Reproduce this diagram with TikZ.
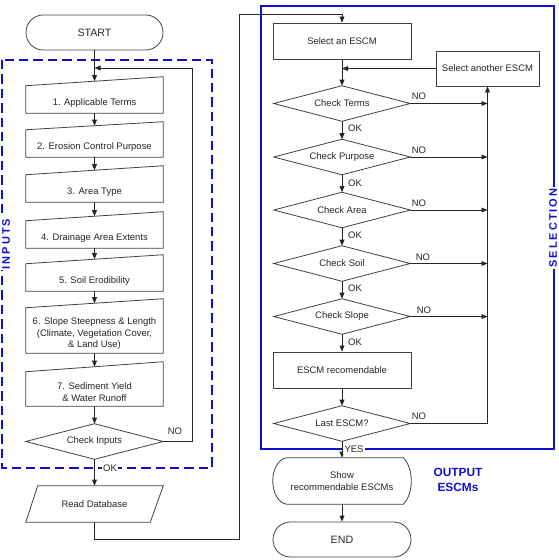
\documentclass[tikz,border=0pt]{standalone}
\usepackage{fontspec}
\setmainfont{Liberation Sans}
\newfontfamily\spacedfont[LetterSpace=18]{Liberation Sans}
\usetikzlibrary{arrows.meta,calc}
\definecolor{bl}{RGB}{15,15,210}
\begin{document}
\begin{tikzpicture}[x=0.75pt,y=-0.75pt,
  every node/.style={font=\fontsize{7.1}{8.75}\selectfont, text=black!85},
  ln/.style={draw=black!75, line width=0.6pt},
  arr/.style={draw=black!85, line width=0.6pt, -{Triangle[length=4.5pt,width=3.6pt]}},
  term/.style={draw=black!75, line width=0.6pt, rounded corners=13pt, minimum width=102.75pt, minimum height=26.25pt, inner sep=0pt, font=\fontsize{8}{9.6}\selectfont},
  mi/.style={inner sep=0pt, minimum width=102.75pt, align=center},
  mitext/.style={yshift=-2.4pt, align=center, inner sep=0pt},
  dia/.style={inner sep=0pt, minimum height=26.25pt, align=center},
  box/.style={draw=black!75, line width=0.6pt, inner sep=0pt, minimum height=27pt, align=center},
  lab/.style={inner sep=1pt},
  wlab/.style={inner sep=1.2pt, fill=white},
  side/.style={fill=white, inner sep=1.5pt, text=bl, font=\spacedfont\bfseries\fontsize{8.25}{10}\selectfont}
]
\useasboundingbox (0,0) rectangle (558,560);

% frames
\draw[bl, line width=2.2pt, dash pattern=on 7pt off 3.8pt] (2,60) rectangle (212,468);
\draw[bl, line width=1.5pt] (261,6) rectangle (554,449);

% left column
\node[term] (start) at (94.5,32.5) {START};
\node[mi, minimum height=20.25pt, label={[mitext]center:1. Applicable Terms}] (i1) at (94.5,99.5) {};
\node[mi, minimum height=20.25pt, label={[mitext]center:2. Erosion Control Purpose}] (i2) at (94.5,143.5) {};
\node[mi, minimum height=20.25pt, label={[mitext]center:3. Area Type}] (i3) at (94.5,188.5) {};
\node[mi, minimum height=20.25pt, label={[mitext]center:4. Drainage Area Extents}] (i4) at (94.5,234.5) {};
\node[mi, minimum height=20.25pt, label={[mitext]center:5. Soil Erodibility}] (i5) at (94.5,277.5) {};
\node[mi, minimum height=33.75pt, label={[mitext]center:{6. Slope Steepness \& Length\\(Climate, Vegetation Cover,\\\& Land Use)}}] (i6) at (94.5,330.5) {};
\node[mi, minimum height=25.5pt, label={[mitext]center:{7. Sediment Yield\\\& Water Runoff}}] (i7) at (94.5,389) {};
\foreach \n/\s in {i1/9,i2/8,i3/9,i4/9,i5/9,i6/9,i7/10}
  \draw[ln] (\n.south west) -- (\n.north west) -- ($(\n.north east)+(0,-\s)$) -- (\n.south east) -- cycle;
\node[dia, minimum width=102.75pt] (chk) at (94.5,441.5) {Check Inputs};
\draw[ln] (chk.west) -- (chk.north) -- (chk.east) -- (chk.south) -- cycle;
\node[mi, minimum height=27pt] (rd) at (94.5,504) {Read Database};
\draw[ln] (rd.south west) -- ($(rd.north west)+(12,0)$) -- (rd.north east) -- ($(rd.south east)+(-13,0)$) -- cycle;

\draw[arr] (start.south) -- ($(i1.north)+(0,-4.5)$);
\draw[arr] (i1.south) -- ($(i2.north)+(0,-4)$);
\draw[arr] (i2.south) -- ($(i3.north)+(0,-4.5)$);
\draw[arr] (i3.south) -- ($(i4.north)+(0,-4.5)$);
\draw[arr] (i4.south) -- ($(i5.north)+(0,-4.5)$);
\draw[arr] (i5.south) -- ($(i6.north)+(0,-4.5)$);
\draw[arr] (i6.south) -- ($(i7.north)+(0,-5)$);
\draw[arr] (i7.south) -- (chk.north);
\draw[arr] (chk.south) -- (rd.north);
\coordinate (lb) at (192,68);
\draw[arr] (chk.east) -| (lb) -- (lb -| start.south);
\node[lab] (nol) at (175,431) {NO};
\node[wlab] (okl) at (110,468) {OK};

% connection to right column
\coordinate (c1) at (239,539);
\coordinate (c2) at (239,14);

% right column
\node[box, minimum width=103.5pt] (sela) at (342,41) {Select an ESCM};
\node[box, minimum width=77.25pt, minimum height=26.25pt] (selb) at (487.5,68.5) {Select another ESCM};
\node[dia, minimum width=102pt] (d1) at (342,103.5) {Check Terms};
\node[dia, minimum width=102pt] (d2) at (342,157) {Check Purpose};
\node[dia, minimum width=102pt] (d3) at (342,210) {Check Area};
\node[dia, minimum width=102pt] (d4) at (342,263.5) {Check Soil};
\node[dia, minimum width=102pt] (d5) at (342,316.5) {Check Slope};
\node[box, minimum width=103.5pt] (rec) at (342,370) {ESCM recomendable};
\node[dia, minimum width=102pt] (last) at (342,423.5) {Last ESCM?};
\foreach \n in {d1,d2,d3,d4,d5,last}
  \draw[ln] (\n.west) -- (\n.north) -- (\n.east) -- (\n.south) -- cycle;
\node[mi, minimum width=103.5pt, minimum height=34.5pt] (show) at (342,481) {Show\\recommendable ESCMs};
\draw[ln] ($(show.north west)+(15,0)$) -- ($(show.north east)+(-8,0)$)
  .. controls ($(show.north east)+(-3,5)$) and ($(show.east)+(0,-10)$) .. (show.east)
  .. controls ($(show.east)+(0,10)$) and ($(show.south east)+(-3,-5)$) .. ($(show.south east)+(-8,0)$)
  -- ($(show.south west)+(15,0)$)
  .. controls ($(show.south west)+(6.7,0)$) and ($(show.west)+(0,12.7)$) .. (show.west)
  .. controls ($(show.west)+(0,-12.7)$) and ($(show.north west)+(6.7,0)$) .. cycle;
\node[term, minimum width=103.5pt] (end) at (342,539.5) {END};

\draw[arr] (rd.south) |- (c1) -- (c2) -| (sela.north);
\draw[arr] (sela.south) -- (d1.north);
\draw[arr] (selb.west) -- (selb.west -| sela.south);
\foreach \a/\b in {d1/d2,d2/d3,d3/d4,d4/d5,d5/rec}
  \draw[arr] (\a.south) -- (\b.north);
\draw[arr] (rec.south) -- (last.north);
\foreach \n in {d1,d2,d3,d4,d5}
  \draw[arr] (\n.east) -- (\n.east -| selb.south);
\draw[arr] (last.east) -| (selb.south);
\draw[arr] (last.south) -- (show.north);
\draw[arr] (show.south) -- (end.north);

\node[lab] (no1) at (419,96) {NO};
\node[lab] (no2) at (419,150) {NO};
\node[lab] (no3) at (419,203) {NO};
\node[lab] (no4) at (423,257) {NO};
\node[lab] (no5) at (424,310) {NO};
\node[lab] (no6) at (419,416) {NO};
\node[lab] (ok1) at (355,128) {OK};
\node[lab] (ok2) at (355,183) {OK};
\node[lab] (ok3) at (355,235) {OK};
\node[lab] (ok4) at (355,288) {OK};
\node[lab] (ok5) at (355,342) {OK};
\node[wlab] (yes) at (354,449) {YES};

% side labels
\node[side, rotate=90] (seltxt) at (553,228) {SELECTION};
\node[side, rotate=90, inner sep=1pt] (inptxt) at (6,244) {INPUTS};
\node[align=center, text=bl, font=\bfseries\fontsize{8.9}{11.2}\selectfont] (out) at (458,480) {OUTPUT\\ESCMs};
\end{tikzpicture}
\end{document}
